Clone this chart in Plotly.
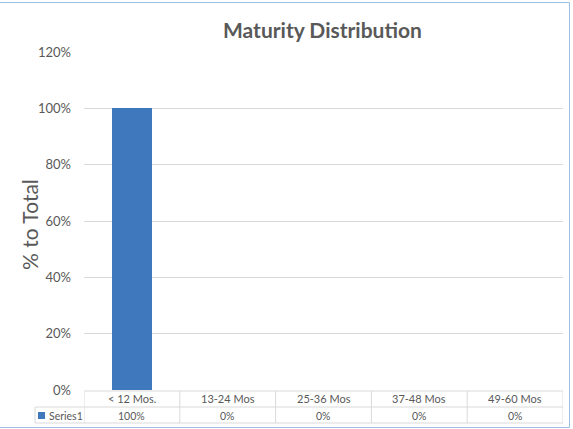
import plotly.graph_objects as go

# Chart data
categories = ["< 12 Mos.", "13-24 Mos", "25-36 Mos", "37-48 Mos", "49-60 Mos"]
shares = [1.00, 0.00, 0.00, 0.00, 0.00]
series_name = "Series1"
title_text = "Maturity Distribution"
y_title = "% to Total"

# Figure geometry (pixels)
W, H = 573, 429
PL, PR, PT, PB = 84, 563, 52, 390
TXT = "#595959"
GRID = "#D9D9D9"
BAR = "#3F78BD"
FONT = "Lato"


def px_x(p):
    return (p - PL) / (PR - PL)


def px_y(p):
    return (PB - p) / (PB - PT)


fig = go.Figure()
fig.add_trace(go.Bar(x=categories, y=shares, width=0.41,
                     marker=dict(color=BAR, line=dict(width=0)),
                     showlegend=False, name=series_name))

shapes = []
annotations = []

# Data table under the plot: grid lines
row_top, row_mid, row_bot = 391, 407, 423
for y, x0 in [(row_top, PL), (row_mid, 35), (row_bot, 35)]:
    shapes.append(dict(type="line", xref="paper", yref="paper",
                       x0=px_x(x0), x1=1, y0=px_y(y), y1=px_y(y),
                       line=dict(color=GRID, width=1)))
for i in range(len(categories) + 1):
    shapes.append(dict(type="line", xref="x", yref="paper",
                       x0=i - 0.5, x1=i - 0.5, y0=px_y(row_top), y1=px_y(row_bot),
                       line=dict(color=GRID, width=1)))
shapes.append(dict(type="line", xref="paper", yref="paper",
                   x0=px_x(35), x1=px_x(35), y0=px_y(row_mid), y1=px_y(row_bot),
                   line=dict(color=GRID, width=1)))

# Legend key in the table
shapes.append(dict(type="rect", xref="paper", yref="paper",
                   x0=px_x(38), x1=px_x(45), y0=px_y(419), y1=px_y(412),
                   fillcolor=BAR, line=dict(width=0)))
annotations.append(dict(text=series_name, xref="paper", yref="paper",
                        x=px_x(46.5), y=px_y(415.5), xanchor="left", yanchor="middle",
                        showarrow=False, font=dict(family=FONT, size=10.5, color=TXT)))

# Table text: categories and values
for c, v in zip(categories, shares):
    annotations.append(dict(text=c, xref="x", yref="paper", x=c, y=px_y(398.5),
                            xanchor="center", yanchor="middle", showarrow=False,
                            font=dict(family=FONT, size=11, color=TXT)))
    annotations.append(dict(text=f"{v:.0%}", xref="x", yref="paper", x=c, y=px_y(415.5),
                            xanchor="center", yanchor="middle", showarrow=False,
                            font=dict(family=FONT, size=10.5, color=TXT)))

# Axis title
annotations.append(dict(text=y_title, xref="paper", yref="paper",
                        x=px_x(29), y=px_y(225), textangle=-90,
                        xanchor="center", yanchor="middle", showarrow=False,
                        font=dict(family=FONT, size=21, color=TXT)))

# Chart title
annotations.append(dict(text=f"<b>{title_text}</b>", xref="paper", yref="paper",
                        x=px_x(322), y=px_y(30), xanchor="center", yanchor="middle",
                        showarrow=False, font=dict(family=FONT, size=21, color=TXT)))

# Outer chart border
shapes.append(dict(type="rect", xref="paper", yref="paper",
                   x0=px_x(-1), x1=px_x(569.5), y0=px_y(427.5), y1=px_y(2.5),
                   line=dict(color="#9DC0E4", width=1), fillcolor="rgba(0,0,0,0)"))

fig.update_layout(
    width=W, height=H,
    margin=dict(l=PL, r=W - PR, t=PT, b=H - PB, autoexpand=False),
    paper_bgcolor="white", plot_bgcolor="white",
    shapes=shapes, annotations=annotations,
    bargap=0,
    xaxis=dict(showticklabels=False, showgrid=False, zeroline=False,
               showline=False, ticks="", range=[-0.5, 4.5], fixedrange=True),
    yaxis=dict(range=[0, 1.2], tickvals=[0, 0.2, 0.4, 0.6, 0.8, 1.0, 1.2],
               tickformat=".0%", showgrid=True, gridcolor=GRID, gridwidth=1,
               zeroline=False, showline=False, ticks="", ticklabelstandoff=12,
               tickfont=dict(family=FONT, size=13, color=TXT), fixedrange=True),
)

fig.write_html("out.html")
